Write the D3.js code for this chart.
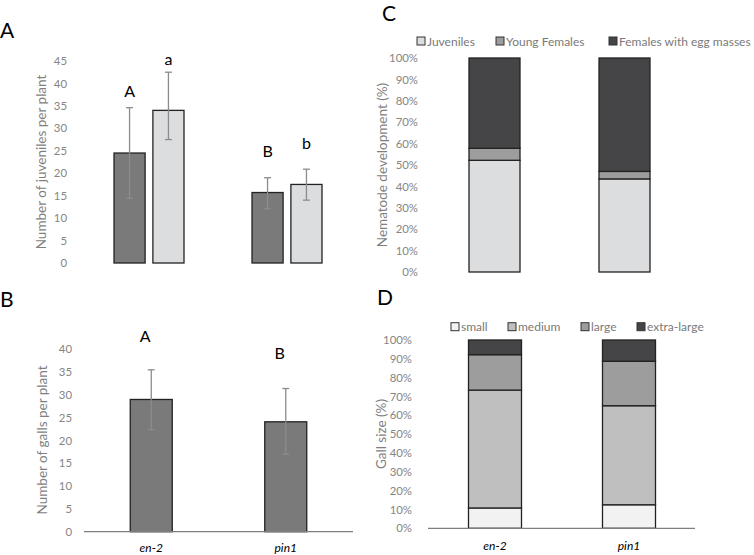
<!DOCTYPE html>
<html><head><meta charset="utf-8">
<script src="https://cdn.jsdelivr.net/npm/d3@7"></script>
<style>body{margin:0;background:#fff}svg{display:block}text{font-family:Lato,"Open Sans",sans-serif}</style>
</head><body><svg id="c" width="754" height="555"></svg>
<script>
// ---- data ----
const genotypes = ["en-2", "pin1"];
// Panel A: juveniles per plant, two series per genotype
const aSeries = ["dark", "light"];
const aValues = [[24.5, 34.0], [15.7, 17.5]];
const aErrHigh = [[34.6, 42.5], [19.0, 20.9]];
const aErrLow = [[14.4, 27.5], [12.1, 14.0]];
const aLetters = [["A", "a"], ["B", "b"]];
const aLetterAt = [[37.0, 44.1], [23.6, 25.4]]; // data-unit level of the significance letters
const aTicks = [0, 5, 10, 15, 20, 25, 30, 35, 40, 45];
// Panel B: galls per plant
const bValues = [29.0, 24.1];
const bErrHigh = [35.5, 31.4];
const bErrLow = [22.4, 17.0];
const bLetters = ["A", "B"];
const bLetterAt = [41.7, 37.9];
const bTicks = [0, 5, 10, 15, 20, 25, 30, 35, 40];
// Panel C: nematode development (%)
const cKeys = ["Juveniles", "Young Females", "Females with egg masses"];
const cJuveniles = [52.2, 43.5];
const cYoungFemales = [5.6, 3.5];
const cFemalesEgg = [42.2, 53.0];
// Panel D: gall size (%)
const dKeys = ["small", "medium", "large", "extra-large"];
const dSmall = [10.8, 12.5];
const dMedium = [62.6, 52.6];
const dLarge = [18.8, 23.6];
const dXL = [7.8, 11.3];
const pctTicks = [0, 10, 20, 30, 40, 50, 60, 70, 80, 90, 100];

const svg = d3.select("#c");
const tickCol = "#858585", titleCol = "#7f7f7f", edge = "#222", errCol = "#8c8c8c";
const fnt = "Lato,'Open Sans',sans-serif";

function panelLetter(t, x, y) {
  svg.append("text").attr("x", x).attr("y", y).attr("font-size", 21).attr("fill", "#000").text(t);
}
function yAxis(scale, ticks, x, fmt) {
  const g = svg.append("g").attr("transform", `translate(${x},0)`)
    .call(d3.axisLeft(scale).tickValues(ticks).tickSize(0).tickPadding(0).tickFormat(fmt));
  g.select(".domain").remove();
  g.selectAll("text").attr("fill", tickCol).attr("font-size", 11.4).attr("font-family", fnt);
}
function yTitle(t, x, y, fs) {
  svg.append("text").attr("transform", `translate(${x},${y}) rotate(-90)`)
    .attr("text-anchor", "middle").attr("fill", titleCol).attr("font-size", fs || 13.5).text(t);
}
function errBar(g, x, lo, hi) {
  g.append("line").attr("x1", x).attr("x2", x).attr("y1", lo).attr("y2", hi).attr("stroke", errCol).attr("stroke-width", 1.3);
  [lo, hi].forEach(v => g.append("line").attr("x1", x - 3.5).attr("x2", x + 3.5).attr("y1", v).attr("y2", v).attr("stroke", errCol).attr("stroke-width", 1.3));
}

// ---- Panel A ----
panelLetter("A", 0, 38);
const yA = d3.scaleLinear().domain([0, 45]).range([263, 61]);
const xA = d3.scalePoint().domain(genotypes).range([80, 356]).padding(0.5);
const xAi = d3.scaleBand().domain(aSeries).range([-35, 35]).paddingInner(0.2);
const aFill = {dark: "#7a7a7a", light: "#dcdddf"};
yAxis(yA, aTicks, 67, d3.format("d"));
yTitle("Number of juveniles per plant", 46, 162);
const gA = svg.append("g");
genotypes.forEach((gname, i) => {
  aSeries.forEach((s, j) => {
    const x = xA(gname) + xAi(s);
    gA.append("rect").attr("x", x).attr("y", yA(aValues[i][j])).attr("width", xAi.bandwidth())
      .attr("height", yA(0) - yA(aValues[i][j])).attr("fill", aFill[s]).attr("stroke", edge).attr("stroke-width", 1.3);
    errBar(gA, x + xAi.bandwidth() / 2, yA(aErrLow[i][j]), yA(aErrHigh[i][j]));
    gA.append("text").attr("x", x + xAi.bandwidth() / 2).attr("y", yA(aLetterAt[i][j]))
      .attr("text-anchor", "middle").attr("font-size", 16).attr("fill", "#000").text(aLetters[i][j]);
  });
});

// ---- Panel B ----
panelLetter("B", 0, 307);
const yB = d3.scaleLinear().domain([0, 40]).range([531.7, 349.3]);
const xB = d3.scalePoint().domain(genotypes).range([84, 353]).padding(0.5);
const bw = 42;
yAxis(yB, bTicks, 72, d3.format("d"));
yTitle("Number of galls per plant", 47, 440);
const gB = svg.append("g");
genotypes.forEach((gname, i) => {
  const cx = xB(gname);
  gB.append("rect").attr("x", cx - bw / 2).attr("y", yB(bValues[i])).attr("width", bw)
    .attr("height", yB(0) - yB(bValues[i])).attr("fill", "#7a7a7a").attr("stroke", edge).attr("stroke-width", 1.3);
  errBar(gB, cx, yB(bErrLow[i]), yB(bErrHigh[i]));
  gB.append("text").attr("x", cx - 6).attr("y", yB(bLetterAt[i])).attr("text-anchor", "middle")
    .attr("font-size", 16).attr("fill", "#000").text(bLetters[i]);
});
svg.append("line").attr("x1", 84).attr("x2", 353).attr("y1", yB(0)).attr("y2", yB(0)).attr("stroke", "#7f7f7f").attr("stroke-width", 1.2);
genotypes.forEach(gname => svg.append("text").attr("x", xB(gname)).attr("y", 552).attr("text-anchor", "middle")
  .attr("font-size", 12).attr("font-style", "italic").attr("fill", "#000").text(gname));

// ---- stacked helper ----
function stacked(keys, rows, yS, xS, w, colors) {
  const data = genotypes.map((g, i) => { const o = {g}; keys.forEach((k, j) => o[k] = rows[j][i] / 100); return o; });
  const series = d3.stack().keys(keys)(data);
  const g = svg.append("g");
  series.forEach((s, j) => {
    s.forEach(d => {
      g.append("rect").attr("x", xS(d.data.g) - w / 2).attr("y", yS(d[1])).attr("width", w)
        .attr("height", yS(d[0]) - yS(d[1])).attr("fill", colors[j]).attr("stroke", edge).attr("stroke-width", 1.3);
    });
  });
}
function legend(keys, colors, xs, y) {
  keys.forEach((k, i) => {
    svg.append("rect").attr("x", xs[i]).attr("y", y - 4).attr("width", 8).attr("height", 8)
      .attr("fill", colors[i]).attr("stroke", "#333").attr("stroke-width", 1);
    svg.append("text").attr("x", xs[i] + 10).attr("y", y + 4.5).attr("font-size", 12).attr("fill", "#7a7a7a").text(k);
  });
}

// ---- Panel C ----
panelLetter("C", 382, 21);
const yC = d3.scaleLinear().domain([0, 1]).range([272, 58]);
const xC = d3.scalePoint().domain(genotypes).range([429.5, 689.5]).padding(0.5);
const cCols = ["#dcdddf", "#9d9d9d", "#454547"];
yAxis(yC, pctTicks.map(v => v / 100), 418, d3.format(".0%"));
yTitle("Nematode development (%)", 387, 165);
stacked(cKeys, [cJuveniles, cYoungFemales, cFemalesEgg], yC, xC, 51, cCols);
legend(cKeys, cCols, [417, 496, 609], 41);

// ---- Panel D ----
panelLetter("D", 377, 305);
const yD = d3.scaleLinear().domain([0, 1]).range([528.3, 340]);
const xD = d3.scalePoint().domain(genotypes).range([428, 696]).padding(0.5);
const dCols = ["#f2f2f2", "#bfbfc0", "#9d9d9d", "#454547"];
yAxis(yD, pctTicks.map(v => v / 100), 412, d3.format(".0%"));
yTitle("Gall size (%)", 386, 434);
stacked(dKeys, [dSmall, dMedium, dLarge, dXL], yD, xD, 53, dCols);
svg.append("line").attr("x1", 428).attr("x2", 695).attr("y1", yD(0)).attr("y2", yD(0)).attr("stroke", "#7f7f7f").attr("stroke-width", 1.2);
legend(dKeys, dCols, [451, 508, 581, 637], 326.7);
genotypes.forEach(gname => svg.append("text").attr("x", xD(gname)).attr("y", 550).attr("text-anchor", "middle")
  .attr("font-size", 12).attr("font-style", "italic").attr("fill", "#000").text(gname));
</script></body></html>
